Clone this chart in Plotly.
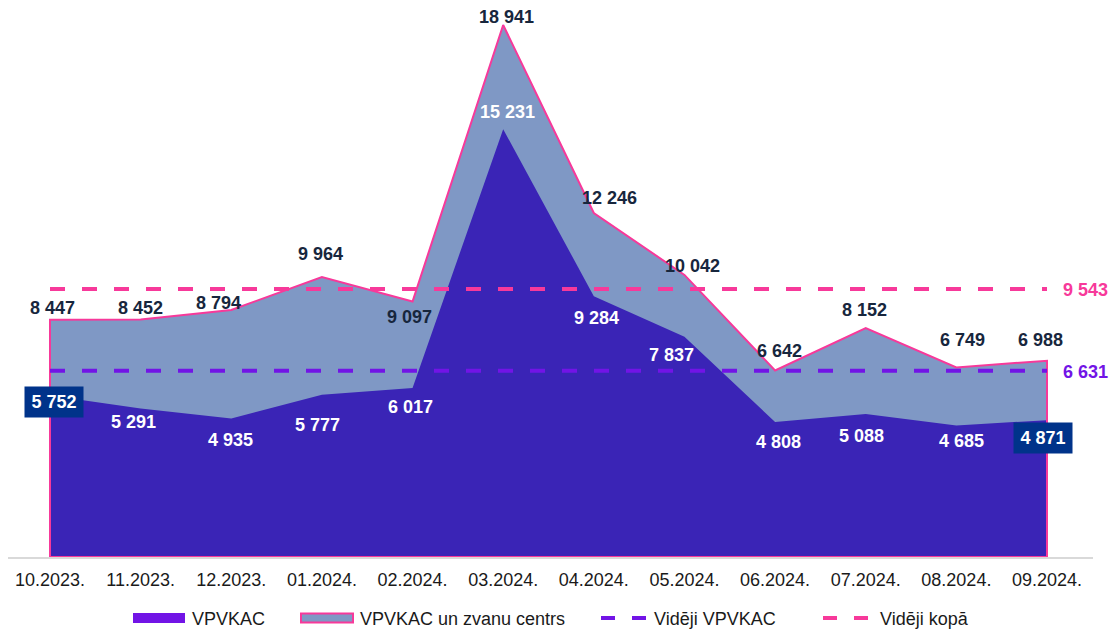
import plotly.graph_objects as go

# Monthly request counts
months = ["10.2023.", "11.2023.", "12.2023.", "01.2024.", "02.2024.", "03.2024.",
          "04.2024.", "05.2024.", "06.2024.", "07.2024.", "08.2024.", "09.2024."]
vpvkac = [5752, 5291, 4935, 5777, 6017, 15231, 9284, 7837, 4808, 5088, 4685, 4871]
total = [8447, 8452, 8794, 9964, 9097, 18941, 12246, 10042, 6642, 8152, 6749, 6988]
avg_vpvkac = 6631
avg_total = 9543

series_names = ["VPVKAC", "VPVKAC un zvanu centrs", "Vidēji VPVKAC", "Vidēji kopā"]

# Label nudges in pixels (dx, dy) so labels sit clear of the outlines
total_dx = [2, 0, -13, -1, -3, 3, 16, 8, 4, -1, 6, -7]
total_dy = [12, 12, 7, 23, -16, 8, 15, 9, 19, 18, 27, 21]
vp_dx = [4, -7, -1, -4, -2, 4, 3, -13, 3, -4, 5, -4]
vp_dy = [-7, -14, -22, -30, -19, 17, -22, -18, -20, -22, -16, -18]

FONT = "Liberation Sans, Arial, sans-serif"
C_TOTAL_FILL = "#7F98C5"
C_VP_FILL = "#3A24B6"
C_PINK = "#F7399A"
C_PURPLE = "#7214E6"
C_LABEL = "#17263D"
C_BOX = "#00338A"

fmt = lambda v: f"{v:,}".replace(",", " ")
xs = list(range(len(months)))
n = len(months)

fig = go.Figure()

# Total area (fill only)
fig.add_trace(go.Scatter(x=xs, y=total, mode="lines", fill="tozeroy",
                         fillcolor=C_TOTAL_FILL, line=dict(width=0, color=C_TOTAL_FILL),
                         name=series_names[1], showlegend=False, hoverinfo="skip"))
# VPVKAC area
fig.add_trace(go.Scatter(x=xs, y=vpvkac, mode="lines", fill="tozeroy",
                         fillcolor=C_VP_FILL, line=dict(width=0, color=C_VP_FILL),
                         name=series_names[0], showlegend=False, hoverinfo="skip"))
# Outline of the total area, closed down to the baseline
fig.add_trace(go.Scatter(x=[xs[0]] + xs + [xs[-1], xs[0]],
                         y=[0] + total + [0, 0], mode="lines",
                         line=dict(width=2, color=C_PINK),
                         showlegend=False, hoverinfo="skip"))
# Average lines
fig.add_trace(go.Scatter(x=xs, y=[avg_total] * n, mode="lines",
                         line=dict(width=4, color=C_PINK, dash="15px,17px"),
                         showlegend=False, hoverinfo="skip"))
fig.add_trace(go.Scatter(x=xs, y=[avg_vpvkac] * n, mode="lines",
                         line=dict(width=4, color=C_PURPLE, dash="15px,17px"),
                         showlegend=False, hoverinfo="skip"))

ann = []
for i in xs:
    ann.append(dict(x=i, y=total[i], text=f"<b>{fmt(total[i])}</b>", showarrow=False,
                    xshift=total_dx[i], yshift=total_dy[i],
                    font=dict(family=FONT, size=18, color=C_LABEL)))
    boxed = i in (0, n - 1)
    a = dict(x=i, y=vpvkac[i], text=f"<b>{fmt(vpvkac[i])}</b>", showarrow=False,
             xshift=vp_dx[i], yshift=vp_dy[i],
             font=dict(family=FONT, size=18, color="white"))
    if boxed:
        a.update(bgcolor=C_BOX, borderpad=4, width=50, height=22)
    ann.append(a)

ann.append(dict(x=n - 1, y=avg_total, text=f"<b>{fmt(avg_total)}</b>", showarrow=False,
                xanchor="left", xshift=14, yshift=-1,
                font=dict(family=FONT, size=18, color=C_PINK)))
ann.append(dict(x=n - 1, y=avg_vpvkac, text=f"<b>{fmt(avg_vpvkac)}</b>", showarrow=False,
                xanchor="left", xshift=14, yshift=-1,
                font=dict(family=FONT, size=18, color=C_PURPLE)))

# Legend drawn along the bottom
L, R, T, B = 8, 21, 0, 74
W, H = 1114, 631
pw, ph = W - L - R, H - T - B
px = lambda x: (x - L) / pw
py = lambda y: (H - B - y) / ph

shapes = []
ly = 618
shapes.append(dict(type="rect", xref="paper", yref="paper", x0=px(133), x1=px(185),
                   y0=py(623), y1=py(613), fillcolor=C_PURPLE, line=dict(width=0)))
shapes.append(dict(type="rect", xref="paper", yref="paper", x0=px(301), x1=px(353),
                   y0=py(622.5), y1=py(613.5), fillcolor=C_TOTAL_FILL,
                   line=dict(width=2, color=C_PINK)))
for x0, col in ((601, C_PURPLE), (823, C_PINK)):
    for k in range(2):
        shapes.append(dict(type="line", xref="paper", yref="paper",
                           x0=px(x0 + k * 31), x1=px(x0 + k * 31 + 14),
                           y0=py(ly), y1=py(ly), line=dict(width=4, color=col)))
for tx, name in zip((190, 358, 652, 878), series_names):
    ann.append(dict(xref="paper", yref="paper", x=px(tx), y=py(ly + 1), text=name,
                    showarrow=False, xanchor="left", yanchor="middle",
                    font=dict(family=FONT, size=18, color="#1A1A1A")))

x_per_unit = (1047 - 50) / (n - 1)
fig.update_layout(
    width=W, height=H,
    margin=dict(l=L, r=R, t=T, b=B),
    paper_bgcolor="white", plot_bgcolor="white",
    showlegend=False,
    annotations=ann, shapes=shapes,
    xaxis=dict(range=[-(50 - L) / x_per_unit, (n - 1) + (W - R - 1047) / x_per_unit],
               tickmode="array", tickvals=xs, ticktext=months,
               showgrid=False, zeroline=False, showline=True,
               linecolor="#D9D9D9", linewidth=2, ticks="",
               ticklabelstandoff=5,
               tickfont=dict(family=FONT, size=18, color="#1A1A1A")),
    yaxis=dict(range=[0, 19830], showgrid=False, zeroline=False,
               showticklabels=False, showline=False),
)

fig.write_html("out.html")
